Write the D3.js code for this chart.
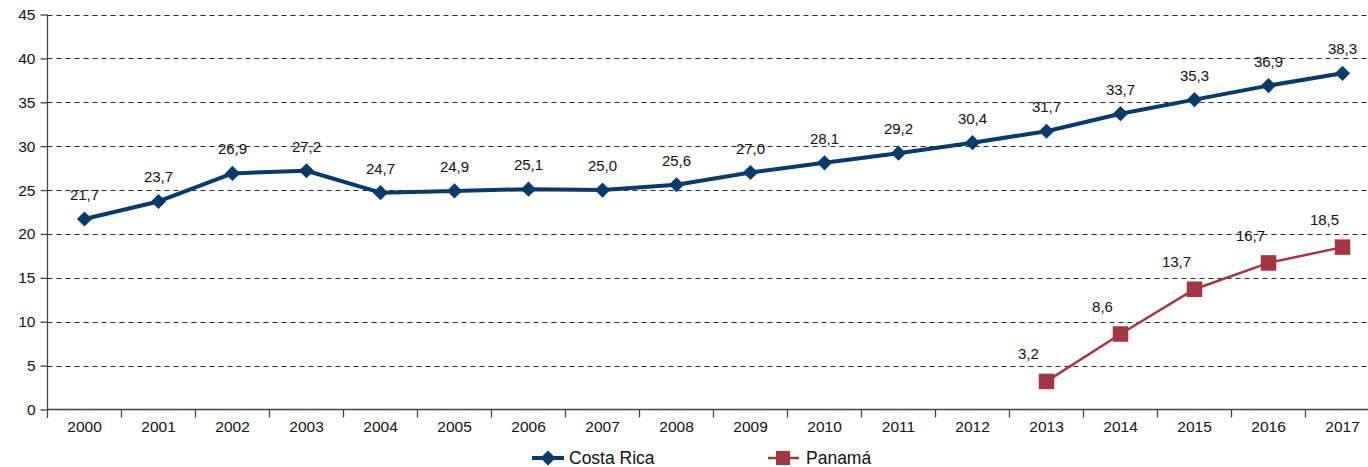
<!DOCTYPE html>
<html><head><meta charset="utf-8">
<script src="https://cdn.jsdelivr.net/npm/d3@7/dist/d3.min.js"></script>
<style>
body{margin:0;background:#fff;}
svg{display:block;font-family:"Liberation Sans",Arial,sans-serif;}
</style></head><body>
<svg id="c" width="1368" height="467"></svg>
<script>
const years = ["2000","2001","2002","2003","2004","2005","2006","2007","2008","2009","2010","2011","2012","2013","2014","2015","2016","2017"];
const costaRica = [21.7,23.7,26.9,27.2,24.7,24.9,25.1,25.0,25.6,27.0,28.1,29.2,30.4,31.7,33.7,35.3,36.9,38.3];
const panama = [null,null,null,null,null,null,null,null,null,null,null,null,null,3.2,8.6,13.7,16.7,18.5];
const yTicks = [0,5,10,15,20,25,30,35,40,45];
const seriesNames = ["Costa Rica","Panamá"];

const svg = d3.select("#c");
const x0 = 47.5, bw = 74;
const x = d3.scaleBand().domain(years).range([x0, x0 + bw*years.length]).padding(0);
const y = d3.scaleLinear().domain([0,45]).range([409.5,14.5]);
const cx = d => x(d) + x.bandwidth()/2;
const fmt = v => v.toFixed(1).replace(".", ",");

// gridlines
svg.append("g").selectAll("line").data(yTicks.filter(t=>t>0)).join("line")
  .attr("x1", x0).attr("x2", 1368)
  .attr("y1", d=>Math.round(y(d))+0.5).attr("y2", d=>Math.round(y(d))+0.5)
  .attr("stroke","#2a2a2a").attr("stroke-width",1).attr("stroke-dasharray","5,4");

// y axis
const ya = svg.append("g").attr("transform",`translate(${x0},0)`)
  .call(d3.axisLeft(y).tickValues(yTicks).tickSize(7).tickPadding(5).tickFormat(d=>d));
ya.select(".domain").remove();
ya.selectAll(".tick line").attr("stroke","#444").attr("stroke-width",1.3);
ya.selectAll("text").attr("font-size","15.5px").attr("fill","#111").attr("font-family","Liberation Sans, Arial, sans-serif");
svg.append("line").attr("x1",x0).attr("x2",x0).attr("y1",y(45)).attr("y2",418)
  .attr("stroke","#444").attr("stroke-width",1.3);

// x axis
const xa = svg.append("g").attr("transform",`translate(0,${y(0)})`)
  .call(d3.axisBottom(x).tickSize(0).tickPadding(11));
xa.select(".domain").attr("d",`M${x0},0H1368`).attr("stroke","#444").attr("stroke-width",1.3);
xa.selectAll("text").attr("font-size","15.5px").attr("fill","#111").attr("font-family","Liberation Sans, Arial, sans-serif");
svg.append("g").selectAll("line").data(years.slice(1)).join("line")
  .attr("x1",d=>x(d)).attr("x2",d=>x(d)).attr("y1",y(0)).attr("y2",y(0)+8)
  .attr("stroke","#444").attr("stroke-width",1.3);

const crColor = "#073b6c", paColor = "#a23642";
const line = d3.line().defined(d=>d.v!=null).x(d=>cx(d.k)).y(d=>y(d.v));
const crData = years.map((k,i)=>({k, v:costaRica[i]}));
const paData = years.map((k,i)=>({k, v:panama[i]})).filter(d=>d.v!=null);

svg.append("path").datum(crData).attr("d",line).attr("fill","none")
  .attr("stroke",crColor).attr("stroke-width",4).attr("stroke-linejoin","round");
svg.append("path").datum(paData).attr("d",line).attr("fill","none")
  .attr("stroke",paColor).attr("stroke-width",2.5);

const diamond = d3.symbol(d3.symbolSquare, 115);
const square = d3.symbol(d3.symbolSquare, 240);
svg.append("g").selectAll("path").data(crData).join("path")
  .attr("d",diamond).attr("fill",crColor)
  .attr("transform",d=>`translate(${cx(d.k)},${y(d.v)}) rotate(45)`);
svg.append("g").selectAll("path").data(paData).join("path")
  .attr("d",square).attr("fill",paColor)
  .attr("transform",d=>`translate(${cx(d.k)},${y(d.v)})`);

// labels
svg.append("g").selectAll("text").data(crData).join("text")
  .attr("x",d=>cx(d.k)).attr("y",d=>y(d.v)-19).attr("text-anchor","middle")
  .attr("font-size","15px").attr("fill","#111").text(d=>fmt(d.v));
svg.append("g").selectAll("text").data(paData).join("text")
  .attr("x",d=>cx(d.k)-18).attr("y",d=>y(d.v)-22).attr("text-anchor","middle")
  .attr("font-size","15px").attr("fill","#111").text(d=>fmt(d.v));

// legend
const lg = svg.append("g");
lg.append("line").attr("x1",532).attr("x2",564).attr("y1",458).attr("y2",458)
  .attr("stroke",crColor).attr("stroke-width",4);
lg.append("path").attr("d",diamond).attr("fill",crColor).attr("transform","translate(548,458) rotate(45)");
lg.append("text").attr("x",569).attr("y",464).attr("font-size","17.5px").attr("fill","#111").text(seriesNames[0]);
lg.append("line").attr("x1",768).attr("x2",799).attr("y1",458).attr("y2",458)
  .attr("stroke",paColor).attr("stroke-width",2.5);
lg.append("path").attr("d",d3.symbol(d3.symbolSquare,200)).attr("fill",paColor).attr("transform","translate(783,458)");
lg.append("text").attr("x",806).attr("y",464).attr("font-size","17.5px").attr("fill","#111").text(seriesNames[1]);
</script>
</body></html>
